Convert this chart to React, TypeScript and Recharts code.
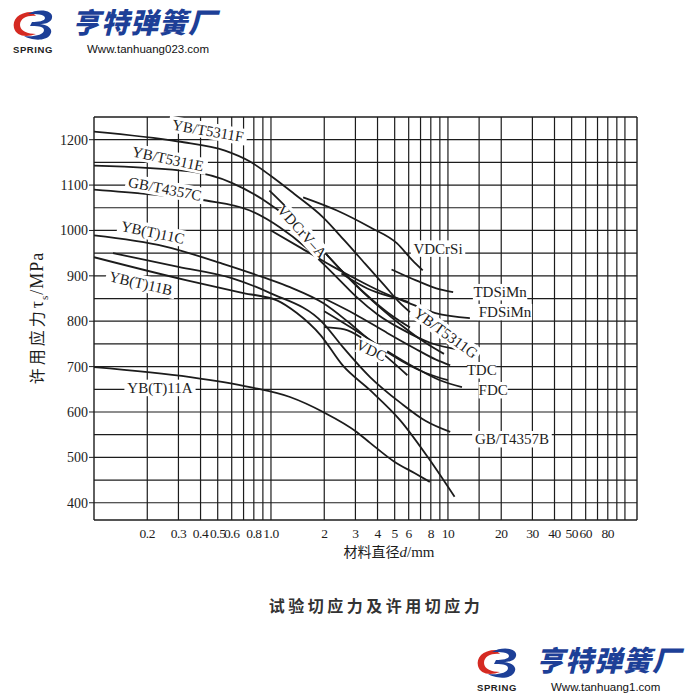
import React from "react";
import { LineChart, Line, XAxis, YAxis, ReferenceLine, ReferenceDot } from "recharts";

// axis ticks / grid
const xTicks = [0.2, 0.3, 0.4, 0.5, 0.6, 0.8, 1, 2, 3, 4, 5, 6, 8, 10, 20, 30, 40, 50, 60, 80];
const xTickLabels = ["0.2", "0.3", "0.4", "0.5", "0.6", "0.8", "1.0", "2", "3", "4", "5", "6", "8", "10", "20", "30", "40", "50", "60", "80"];
const xGrid = [0.2, 0.3, 0.4, 0.5, 0.6, 0.7, 0.8, 0.9, 1, 2, 3, 4, 5, 6, 7, 8, 9, 10, 15, 20, 30, 40, 50, 60, 70, 80, 90, 100];
const yTicks = [400, 500, 600, 700, 800, 900, 1000, 1100, 1200];
const yGrid = [400, 450, 500, 550, 600, 650, 700, 750, 800, 850, 900, 950, 1000, 1050, 1100, 1150, 1200];

// curves: d = 材料直径 (mm), v = 许用应力 (MPa)
const ybT5311F = [
  { d: 0.1, v: 1218 }, { d: 0.3, v: 1196 }, { d: 0.55, v: 1176 }, { d: 0.76, v: 1152 },
  { d: 1.0, v: 1120 }, { d: 1.35, v: 1081 }, { d: 1.97, v: 1029 }, { d: 2.6, v: 978 },
  { d: 3.4, v: 927 }, { d: 4.4, v: 878 }, { d: 5.3, v: 842 }, { d: 6.1, v: 820 },
];
const ybT5311E = [
  { d: 0.1, v: 1143 }, { d: 0.35, v: 1130 }, { d: 0.6, v: 1105 }, { d: 0.9, v: 1068 },
  { d: 1.3, v: 1022 }, { d: 1.8, v: 971 }, { d: 2.5, v: 912 }, { d: 3.4, v: 861 },
  { d: 4.6, v: 818 }, { d: 6.1, v: 786 },
];
const ybT5311G = [
  { d: 1.0, v: 1000 }, { d: 1.5, v: 960 }, { d: 2.2, v: 922 }, { d: 3.2, v: 888 },
  { d: 4.5, v: 860 }, { d: 6.0, v: 842 },
];
const gbT4357C = [
  { d: 0.1, v: 1090 }, { d: 0.2, v: 1080 }, { d: 0.43, v: 1066 }, { d: 0.76, v: 1044 },
  { d: 1.12, v: 1007 }, { d: 1.57, v: 963 }, { d: 1.97, v: 927 }, { d: 2.45, v: 890 },
  { d: 3.05, v: 853 }, { d: 4.0, v: 815 }, { d: 5.5, v: 782 }, { d: 8, v: 752 }, { d: 11.7, v: 737 },
];
const ybT11C = [
  { d: 0.1, v: 989 }, { d: 0.25, v: 965 }, { d: 0.53, v: 927 }, { d: 0.9, v: 897 },
  { d: 1.28, v: 875 }, { d: 1.97, v: 840 }, { d: 2.7, v: 800 }, { d: 3.63, v: 758 },
  { d: 5.5, v: 712 }, { d: 7.5, v: 686 }, { d: 10, v: 670 },
];
const ybT11B = [
  { d: 0.1, v: 941 }, { d: 0.335, v: 890 }, { d: 0.7, v: 862 }, { d: 1.08, v: 846 },
  { d: 1.4, v: 818 }, { d: 1.9, v: 770 }, { d: 2.55, v: 702 }, { d: 3.63, v: 648 },
  { d: 5.36, v: 582 }, { d: 7.9, v: 494 }, { d: 10.9, v: 413 },
];
const gbT4357B = [
  { d: 0.128, v: 950 }, { d: 0.3, v: 920 }, { d: 0.6, v: 895 }, { d: 0.99, v: 862 },
  { d: 1.97, v: 796 }, { d: 2.55, v: 743 }, { d: 3.63, v: 677 }, { d: 5.4, v: 620 },
  { d: 7.5, v: 580 }, { d: 10.3, v: 556 },
];
const ybT11A = [
  { d: 0.1, v: 699 }, { d: 0.35, v: 677 }, { d: 0.76, v: 655 }, { d: 1.28, v: 633 },
  { d: 1.97, v: 600 }, { d: 3.05, v: 556 }, { d: 3.63, v: 532 }, { d: 5.0, v: 490 },
  { d: 6.5, v: 465 }, { d: 7.9, v: 446 },
];
const vdCrVA = [
  { d: 0.98, v: 1088 }, { d: 1.3, v: 1040 }, { d: 1.7, v: 985 }, { d: 2.2, v: 935 },
  { d: 3, v: 880 }, { d: 4, v: 835 }, { d: 5.5, v: 790 }, { d: 7.5, v: 752 }, { d: 9.5, v: 728 },
];
const vdCrSi = [
  { d: 1.52, v: 1073 }, { d: 2.36, v: 1044 }, { d: 3.63, v: 1007 }, { d: 5.14, v: 972 },
  { d: 6.3, v: 934 }, { d: 7.2, v: 912 },
];
const tdSiMn = [
  { d: 4.8, v: 914 }, { d: 6.6, v: 890 }, { d: 9.0, v: 870 }, { d: 10.7, v: 864 },
];
const fdSiMn = [
  { d: 2.5, v: 905 }, { d: 3.5, v: 872 }, { d: 5.5, v: 846 }, { d: 8.5, v: 818 }, { d: 13.3, v: 807 },
];
const vdc = [
  { d: 2.0, v: 787 }, { d: 2.6, v: 782 }, { d: 3.3, v: 762 }, { d: 4.3, v: 728 }, { d: 5.9, v: 681 },
];
const tdc = [
  { d: 2.0, v: 850 }, { d: 3, v: 815 }, { d: 4.5, v: 775 }, { d: 6.5, v: 740 }, { d: 8.5, v: 716 }, { d: 10.3, v: 703 },
];
const fdc = [
  { d: 2.0, v: 822 }, { d: 3, v: 780 }, { d: 4.5, v: 735 }, { d: 6.5, v: 698 }, { d: 9, v: 670 }, { d: 12, v: 655 },
];

const series = [ybT5311F, ybT5311E, ybT5311G, gbT4357C, ybT11C, ybT11B, gbT4357B, ybT11A, vdCrVA, vdCrSi, tdSiMn, fdSiMn, vdc, tdc, fdc];

const curveLabels = [
  { text: "YB/T5311F", d: 0.44, v: 1220, angle: 10 },
  { text: "YB/T5311E", d: 0.262, v: 1158, angle: 12 },
  { text: "GB/T4357C", d: 0.252, v: 1092, angle: 11 },
  { text: "YB(T)11C", d: 0.215, v: 996, angle: 12 },
  { text: "YB(T)11B", d: 0.184, v: 884, angle: 13 },
  { text: "YB(T)11A", d: 0.236, v: 653, angle: 0 },
  { text: "VDCrV\u2013A", d: 1.5, v: 998, angle: 48 },
  { text: "VDCrSi", d: 8.79, v: 960, angle: 0 },
  { text: "TDSiMn", d: 19.7, v: 864, angle: 0 },
  { text: "FDSiMn", d: 21, v: 820, angle: 0 },
  { text: "YB/T5311G", d: 9.75, v: 774, angle: 36 },
  { text: "VDC", d: 3.7, v: 736, angle: 25 },
  { text: "TDC", d: 15.5, v: 692, angle: 0 },
  { text: "FDC", d: 18, v: 648, angle: 0 },
  { text: "GB/T4357B", d: 23, v: 540, angle: 0 },
];

const INK = "#1c1c1c";
const BLUE = "#1d3f97";
const RED = "#d52a22";
const SERIF = "'Liberation Serif', 'DejaVu Serif', serif";

function CurveLabel(props: any) {
  const { cx, cy, text, angle } = props;
  const fs = 15;
  const w = text.length * fs * 0.56 + 4;
  return (
    <g transform={`translate(${cx},${cy}) rotate(${angle})`}>
      <rect x={-w / 2} y={-fs * 0.55} width={w} height={fs * 1.1} fill="#fff" />
      <text x={0} y={fs * 0.35} textAnchor="middle" fontSize={fs} fontFamily={SERIF} fill={INK}>
        {text}
      </text>
    </g>
  );
}

function Logo({ url }: { url: string }) {
  return (
    <div style={{ position: "relative", width: 230, height: 56 }}>
      <svg width={52} height={54} style={{ position: "absolute", left: 0, top: 0 }}>
        <path d="M24 8 C10 8 4 16 6 24 C8 32 18 34 28 30 C20 30 12 27 12 21 C12 14 20 11 28 12 Z" fill={RED} />
        <path d="M20 10 C30 4 46 6 44 14 C43 19 36 20 32 20 C40 21 46 25 42 31 C37 38 22 36 16 32 C26 33 36 31 36 26 C36 22 28 22 22 22 L24 18 C30 18 37 17 37 14 C37 10 28 10 20 10 Z" fill={BLUE} />
        <text x={5} y={49} fontSize={9.5} fontWeight={700} fontFamily="'Liberation Sans', Arial, sans-serif" fill="#222" letterSpacing={0.6}>
          SPRING
        </text>
      </svg>
      <div style={{ position: "absolute", left: 64, top: 0, fontFamily: "'Noto Sans CJK SC', sans-serif", fontSize: 28, fontWeight: 900, color: BLUE, fontStyle: "italic", lineHeight: "34px", letterSpacing: 1, whiteSpace: "nowrap" }}>
        亨特弹簧厂
      </div>
      <div style={{ position: "absolute", left: 79, top: 38, fontFamily: "'Liberation Sans', Arial, sans-serif", fontSize: 11.5, color: "#111", lineHeight: "14px", whiteSpace: "nowrap" }}>
        {url}
      </div>
    </div>
  );
}

export default function App() {
  return (
    <div style={{ position: "absolute", left: 0, top: 0, width: 700, height: 700, background: "#fff", overflow: "hidden" }}>
      <LineChart width={700} height={700} margin={{ top: 117, right: 63, bottom: 140, left: 34 }}>
        {xGrid.map((g) => (
          <ReferenceLine key={"gx" + g} x={g} stroke={INK} strokeWidth={1.2} />
        ))}
        {yGrid.map((g) => (
          <ReferenceLine key={"gy" + g} y={g} stroke={INK} strokeWidth={1.2} />
        ))}
        <ReferenceLine x={0.1} stroke={INK} strokeWidth={1.4} />
        <ReferenceLine x={117} stroke={INK} strokeWidth={1.4} />
        <ReferenceLine y={362} stroke={INK} strokeWidth={1.4} />
        <ReferenceLine y={1250} stroke={INK} strokeWidth={1.4} />
        <XAxis
          dataKey="d"
          type="number"
          scale="log"
          domain={[0.1, 117]}
          allowDataOverflow
          ticks={xTicks}
          interval={0}
          tickFormatter={(v: number) => xTickLabels[xTicks.indexOf(v)] ?? ""}
          axisLine={false}
          tickLine={false}
          height={40}
          tick={{ fill: INK, fontSize: 13.5, fontFamily: SERIF, letterSpacing: -0.5 }}
          tickMargin={2}
        />
        <YAxis
          type="number"
          domain={[362, 1250]}
          allowDataOverflow
          ticks={yTicks}
          interval={0}
          axisLine={false}
          tickSize={5}
          tickLine={{ stroke: INK }}
          width={60}
          tick={{ fill: INK, fontSize: 14, fontFamily: SERIF }}
          tickMargin={1}
        />
        {series.map((s, i) => (
          <Line
            key={i}
            data={s}
            dataKey="v"
            type="monotone"
            stroke={INK}
            strokeWidth={1.8}
            dot={false}
            isAnimationActive={false}
          />
        ))}
        {curveLabels.map((l) => (
          <ReferenceDot
            key={l.text}
            x={l.d}
            y={l.v}
            r={0}
            shape={(p: any) => <CurveLabel {...p} text={l.text} angle={l.angle} />}
          />
        ))}
      </LineChart>

      {/* axis titles and caption */}
      <div style={{ position: "absolute", left: 37, top: 318, transform: "translate(-50%,-50%) rotate(-90deg)", whiteSpace: "nowrap", fontFamily: "'Noto Sans CJK SC', sans-serif", fontSize: 16, letterSpacing: 3, color: INK }}>
        许用应力<span style={{ fontFamily: SERIF, fontSize: 18, letterSpacing: 1 }}>τ<sub style={{ fontSize: 11 }}>s</sub>/MPa</span>
      </div>
      <div style={{ position: "absolute", left: 389, top: 551, transform: "translate(-50%,-50%)", whiteSpace: "nowrap", fontFamily: "'Noto Sans CJK SC', sans-serif", fontSize: 14, color: INK }}>
        材料直径<span style={{ fontFamily: SERIF, fontStyle: "italic", fontSize: 15 }}>d</span>
        <span style={{ fontFamily: SERIF, fontSize: 15 }}>/mm</span>
      </div>
      <div style={{ position: "absolute", left: 376, top: 605, transform: "translate(-50%,-50%)", whiteSpace: "nowrap", fontFamily: "'Noto Sans CJK SC', sans-serif", fontSize: 16, fontWeight: 700, color: "#333", letterSpacing: 3.5 }}>
        试验切应力及许用切应力
      </div>

      <div style={{ position: "absolute", left: 8, top: 4 }}>
        <Logo url="Www.tanhuang023.com" />
      </div>
      <div style={{ position: "absolute", left: 472, top: 642 }}>
        <Logo url="Www.tanhuang1.com" />
      </div>
    </div>
  );
}
